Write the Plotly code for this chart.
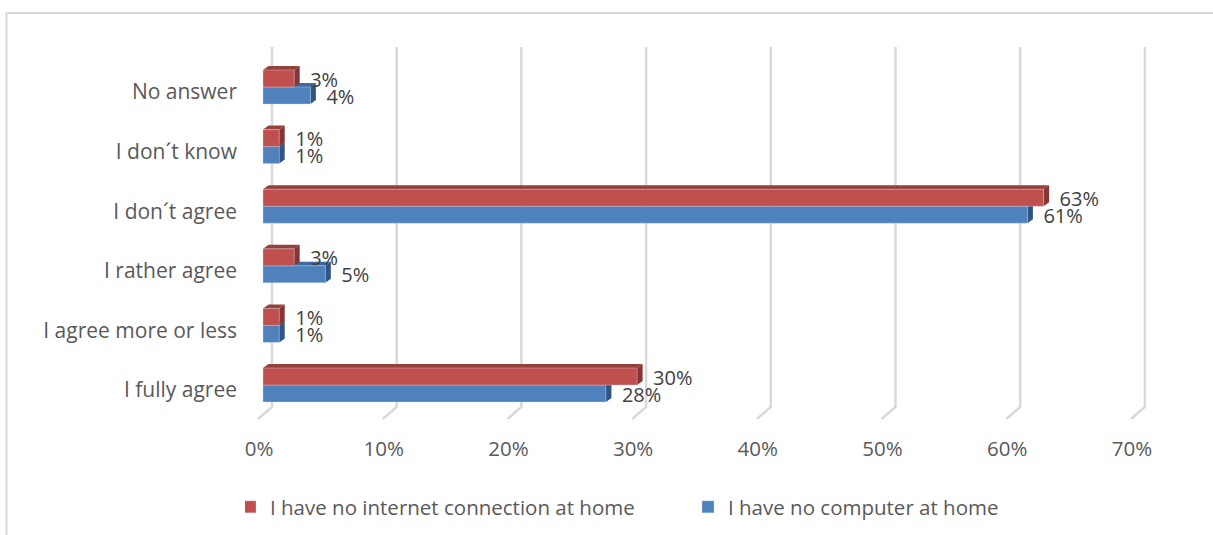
import plotly.graph_objects as go

categories = ["I fully agree", "I agree more or less", "I rather agree", "I don´t agree", "I don´t know", "No answer"]
no_internet = [30.0, 1.3, 2.5, 62.6, 1.3, 2.5]
no_computer = [27.5, 1.3, 5.0, 61.3, 1.3, 3.8]
no_internet_labels = ["30%", "1%", "3%", "63%", "1%", "3%"]
no_computer_labels = ["28%", "1%", "5%", "61%", "1%", "4%"]
ticks = [0, 10, 20, 30, 40, 50, 60, 70]

W, H = 1213, 535
L, R, T, B = 238, 1190, 40, 434
X0, SX = 263.0, 12.47
Y0, SY = 385.0, 59.6
dx, dy = 5.5 / SX, 4 / SY
bw = 17 / SY
gx = 9 / SX
gtop = (Y0 - 47) / SY
gbot = (Y0 - 407) / SY
fdx, fdy = 14 / SX, 12 / SY

RED, RED_TOP, RED_SIDE = "#C0504D", "#94403D", "#853533"
BLUE, BLUE_TOP, BLUE_SIDE = "#4F81BD", "#3F6A9E", "#2F5585"
TXT = "#595959"
FONT = "Open Sans"
FS_CAT = 21
FS_TICK = 20.5
FS_LAB = 20
FS_LEG = 20.5


def faces(vals, low):
    tx, ty, sx, sy = [], [], [], []
    for i, v in enumerate(vals):
        a = i + low
        b = a + bw
        tx += [0, v, v + dx, dx, 0, None]
        ty += [b, b, b + dy, b + dy, b, None]
        sx += [v, v + dx, v + dx, v, v, None]
        sy += [a, a + dy, b + dy, b, a, None]
    return tx, ty, sx, sy


fig = go.Figure()

gxs, gys = [], []
for t in ticks:
    g = t + gx
    gxs += [g, g, g - fdx, None]
    gys += [gtop, gbot, gbot - fdy, None]
fig.add_trace(go.Scatter(x=gxs, y=gys, mode="lines", line=dict(color="#D9D9D9", width=2.5),
                         hoverinfo="skip", showlegend=False))

for vals, low, ctop, cside in [(no_computer, -bw, BLUE_TOP, BLUE_SIDE), (no_internet, 0, RED_TOP, RED_SIDE)]:
    tx, ty, sx, sy = faces(vals, low)
    for xs, ys, c in [(tx, ty, ctop), (sx, sy, cside)]:
        fig.add_trace(go.Scatter(x=xs, y=ys, mode="lines", fill="toself", fillcolor=c,
                                 line=dict(width=0, color=c), hoverinfo="skip", showlegend=False))

idx = list(range(len(categories)))
edge = dict(color="rgba(210,225,240,0.7)", width=0.5)
fig.add_trace(go.Bar(y=idx, x=no_computer, orientation="h", name="I have no computer at home",
                     marker=dict(color=BLUE, line=edge), width=bw, offset=-bw, zorder=1))
fig.add_trace(go.Bar(y=idx, x=no_internet, orientation="h", name="I have no internet connection at home",
                     marker=dict(color=RED, line=edge), width=bw, offset=0, zorder=1))

lab_gap = 16 / SX
lab_dy = 3 / SY
lab_font = dict(family=FONT, size=FS_LAB, color="#404040")
fig.add_trace(go.Scatter(x=[v + lab_gap for v in no_computer], y=[i - bw / 2 - lab_dy for i in idx],
                         text=no_computer_labels, mode="text", textposition="middle right",
                         textfont=lab_font, hoverinfo="skip", showlegend=False, zorder=2))
fig.add_trace(go.Scatter(x=[v + lab_gap for v in no_internet], y=[i + bw / 2 - lab_dy for i in idx],
                         text=no_internet_labels, mode="text", textposition="middle right",
                         textfont=lab_font, hoverinfo="skip", showlegend=False, zorder=2))

xshift = 4 / SX
yshift = 5 / SY
fx = lambda p: (p - L) / (R - L)
fy = lambda p: (B - p) / (B - T)
fig.update_layout(
    width=W, height=H, autosize=False,
    margin=dict(l=L, r=W - R, t=T, b=H - B, autoexpand=False),
    paper_bgcolor="white", plot_bgcolor="white",
    barmode="overlay",
    font=dict(family=FONT, size=FS_CAT, color=TXT),
    xaxis=dict(range=[(L - X0) / SX, (R - X0) / SX], tickvals=[t - xshift for t in ticks],
               ticktext=[f"{t}%" for t in ticks], showgrid=False, zeroline=False, showline=False,
               ticks="", tickfont=dict(family=FONT, size=FS_TICK, color=TXT)),
    yaxis=dict(range=[(Y0 - B) / SY, (Y0 - T) / SY], tickvals=[i - yshift for i in idx],
               ticktext=categories, showgrid=False, zeroline=False, showline=False,
               ticks="", tickfont=dict(family=FONT, size=FS_CAT, color=TXT)),
    legend=dict(orientation="h", traceorder="reversed", x=fx(245), xanchor="left",
                y=fy(507), yanchor="middle", font=dict(family=FONT, size=FS_LEG, color=TXT),
                indentation=-15, entrywidth=428, entrywidthmode="pixels",
                bgcolor="rgba(0,0,0,0)"),
    shapes=[dict(type="path", xref="paper", yref="paper", layer="below",
                 path=f"M {fx(6.5)} {fy(545)} L {fx(6.5)} {fy(13)} L {fx(1225)} {fy(13)}",
                 line=dict(color="#D9D9D9", width=2))],
)
fig.write_html("out.html", post_script="document.body.style.margin='0';",
               config=dict(displayModeBar=False))
